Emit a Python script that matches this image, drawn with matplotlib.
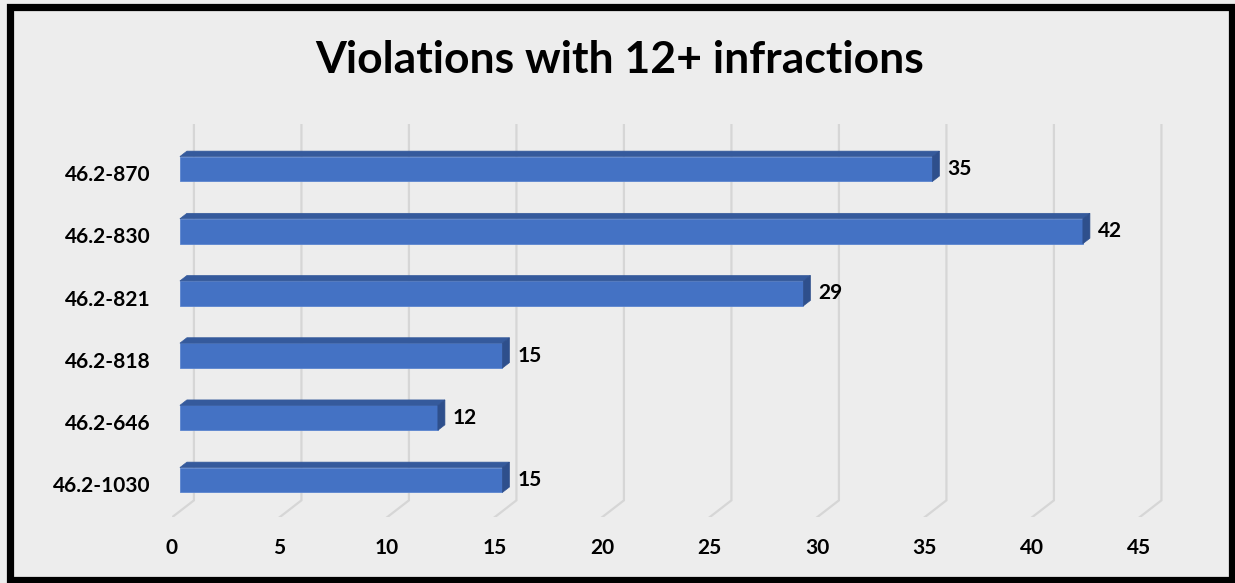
import matplotlib
matplotlib.use("Agg")
import matplotlib.pyplot as plt
from matplotlib.patches import Polygon, Rectangle
import numpy as np

# data (bottom to top)
codes = ["46.2-1030", "46.2-646", "46.2-818", "46.2-821", "46.2-830", "46.2-870"]
counts = [15, 12, 15, 29, 42, 35]
xticks = [0, 5, 10, 15, 20, 25, 30, 35, 40, 45]
title = "Violations with 12+ infractions"

plt.rcParams['font.family'] = ['Lato', 'DejaVu Sans']
plt.rcParams['font.weight'] = 'bold'

bg = "#ededed"
front_c = "#4472c4"
top_c = "#355a9c"
side_c = "#2e4f8c"
grid_c = "#d6d6d6"

W, H = 1235, 583
fig = plt.figure(figsize=(W / 100, H / 100), dpi=100)
fig.patch.set_facecolor(bg)

# plot area in pixels: x data 0 -> 172 px, 21.5 px per unit; y: 0 -> 480 px, 62.2 px per category
px_x, px_y = 21.5, 62.2
x0_px, y0_px = 172, 480
xmin, xmax = 0, 47.5
ymin, ymax = -0.6, 5.72
left = (x0_px + xmin * px_x) / W
width = (xmax - xmin) * px_x / W
bottom = (H - (y0_px - ymin * px_y)) / H
height = (ymax - ymin) * px_y / H
ax = fig.add_axes([left, bottom, width, height])
ax.set_xlim(xmin, xmax)
ax.set_ylim(ymin, ymax)
ax.axis("off")

# 3d depth offset (front plane -> back wall), in data units
DX, DY = 1.02, 0.273
yfloor = ymin

for t in xticks:
    ax.plot([t, t + DX, t + DX], [yfloor, yfloor + DY, ymax], color=grid_c, lw=1.6,
            solid_joinstyle="miter", zorder=1)
    ax.text(t, -1.1, str(t), ha="center", va="center", fontsize=15, fontweight="bold",
            clip_on=False)

# bars
d_front, d_back = 0.36, 0.68
bh = 0.40
ypos = np.arange(len(codes))
for y, v in zip(ypos, counts):
    fx = d_front * DX
    ox = (d_back - d_front) * DX
    oy = (d_back - d_front) * DY
    yb, yt = y - bh / 2, y + bh / 2
    ax.barh(y, v, left=fx, height=bh, color=front_c, edgecolor="#5b85cf", lw=0.6, zorder=3)
    ax.add_patch(Polygon([[fx, yt], [fx + v, yt], [fx + v + ox, yt + oy], [fx + ox, yt + oy]],
                         closed=True, facecolor=top_c, edgecolor=top_c, lw=0.5, zorder=3))
    ax.add_patch(Polygon([[fx + v, yb], [fx + v + ox, yb + oy], [fx + v + ox, yt + oy], [fx + v, yt]],
                         closed=True, facecolor=side_c, edgecolor=side_c, lw=0.5, zorder=3))
    ax.text(fx + v + 0.7, y, str(v), ha="left", va="center", fontsize=15, fontweight="bold",
            zorder=4)

# category labels sit a little below the bar centre
for y, c in zip(ypos, codes):
    ax.text(-1.0, y - 0.1, c, ha="right", va="center", fontsize=15, fontweight="bold", clip_on=False)

fig.text(620 / W, 1 - 60 / H, title, ha="center", va="center", fontsize=32, fontweight="bold")

# outer frame
fig.patches.append(Rectangle((9.5 / W, 3.5 / H), 1222 / W, 573 / H, transform=fig.transFigure,
                             fill=False, edgecolor="black", lw=5.2, zorder=10))

fig.savefig("out.png", dpi=100, facecolor=bg)
